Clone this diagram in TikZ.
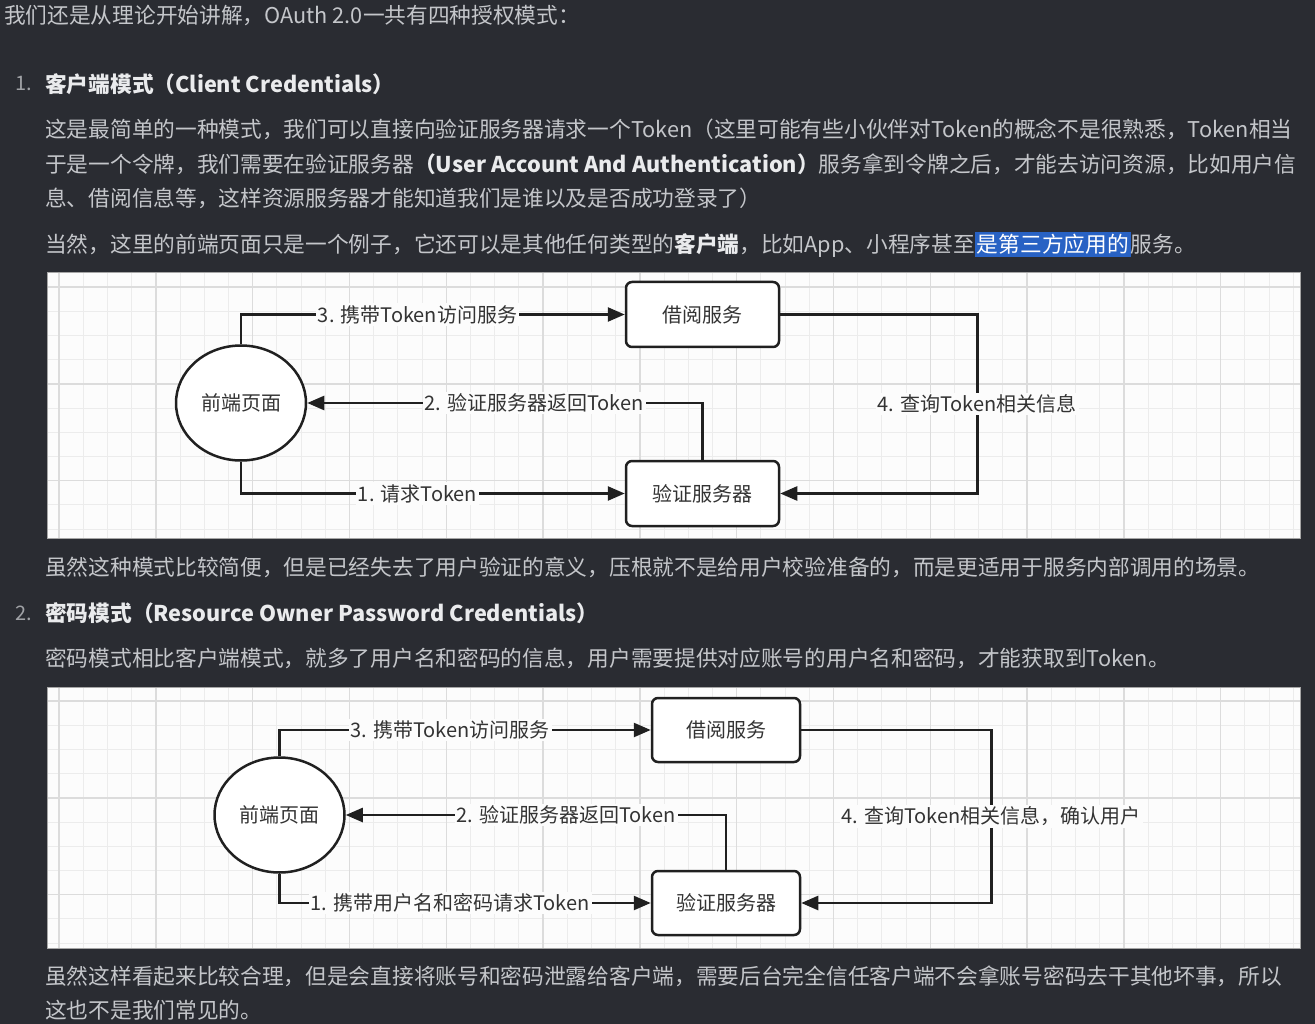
\documentclass[tikz,border=0pt]{standalone}
\usepackage{fontspec}
\usepackage{xcolor}
\setmainfont{Noto Sans CJK SC}
\usetikzlibrary{positioning,shapes.geometric,arrows.meta}
\definecolor{pagebg}{RGB}{42,44,50}
\definecolor{bodytext}{RGB}{196,198,202}
\definecolor{headtext}{RGB}{234,235,237}
\definecolor{numtext}{RGB}{160,162,166}
\definecolor{hlblue}{RGB}{40,98,196}
\definecolor{panelwhite}{RGB}{252,252,252}
\definecolor{gridminor}{RGB}{236,236,236}
\definecolor{gridmajor}{RGB}{220,220,220}
\definecolor{inkline}{RGB}{32,32,32}
\newcommand{\hl}[1]{{\setlength{\fboxsep}{2pt}\colorbox{hlblue}{\color{white}#1}}}

\begin{document}
\begin{tikzpicture}[x=1pt,y=-1pt,
    bodyline/.style={anchor=west, inner sep=0pt, text=bodytext, font=\fontsize{21.7}{26}\selectfont},
    headline/.style={anchor=west, inner sep=0pt, text=headtext, font=\fontsize{21.7}{26}\selectfont\bfseries},
    numline/.style={anchor=west, inner sep=0pt, text=numtext, font=\fontsize{20}{24}\selectfont},
    front/.style={ellipse, draw=inkline, line width=2.5pt, fill=white, minimum width=130pt, minimum height=115pt, text=black!80, font=\fontsize{20}{24}\selectfont},
    box/.style={rectangle, rounded corners=6pt, draw=inkline, line width=2.5pt, fill=white, text=black!80, font=\fontsize{20}{24}\selectfont},
    flow/.style={draw=inkline, line width=2.5pt, -{Triangle[length=17pt,width=14pt]}},
    lbl/.style={fill=panelwhite, inner sep=2pt, text=black!80, font=\fontsize{20}{24}\selectfont}]

    % Page
    \useasboundingbox (0,0) rectangle (1315,1024);
    \fill[pagebg] (0,0) rectangle (1315,1024);

    % Text above first diagram
    \node[bodyline] (intro) at (4,16) {我们还是从理论开始讲解，OAuth 2.0一共有四种授权模式：};
    \node[numline] (num1) at (15,84) {1.};
    \node[headline] (head1) at (45,84) {客户端模式（Client Credentials）};
    \node[bodyline] (p1a) at (45,129) {这是最简单的一种模式，我们可以直接向验证服务器请求一个Token（这里可能有些小伙伴对Token的概念不是很熟悉，Token相当};
    \node[bodyline] (p1b) at (45,164) {于是一个令牌，我们需要在验证服务器{\color{headtext}\bfseries（User Account And Authentication）}服务拿到令牌之后，才能去访问资源，比如用户信};
    \node[bodyline] (p1c) at (45,198) {息、借阅信息等，这样资源服务器才能知道我们是谁以及是否成功登录了）};
    \node[bodyline] (p1d) at (45,245) {当然，这里的前端页面只是一个例子，它还可以是其他任何类型的{\color{headtext}\bfseries 客户端}，比如App、小程序甚至\hl{是第三方应用的}服务。};

    % Grid panels
    \foreach \top/\bot/\first in {273/538/287, 687/948/701} {
        \fill[panelwhite] (47,\top) rectangle (1300,\bot);
        \foreach \n in {0,...,51}
            \draw[gridminor, line width=1pt] ({59+24.2*\n},\top) -- ({59+24.2*\n},\bot);
        \foreach \n in {0,...,10}
            \draw[gridminor, line width=1pt] (47,{\first+24.2*\n}) -- (1300,{\first+24.2*\n});
        \foreach \n in {0,...,12}
            \draw[gridmajor, line width=1.4pt] ({59+96.8*\n},\top) -- ({59+96.8*\n},\bot);
        \foreach \n in {0,...,2}
            \draw[gridmajor, line width=1.4pt] (47,{\first+96.8*\n}) -- (1300,{\first+96.8*\n});
        \draw[gray!70, line width=1pt] (47,\top) rectangle (1300,\bot);
    }

    % Diagram 1: client credentials
    \node[front] (front1) at (241,403) {前端页面};
    \node[box, minimum width=153pt, minimum height=65pt] (lend1) at (702.5,314.5) {借阅服务};
    \node[box, minimum width=153pt, minimum height=65pt] (auth1) at (702.5,493.5) {验证服务器};

    \draw[flow] (front1.north) |- node[lbl, pos=0.73] {3. 携带Token访问服务} (lend1.west);
    \draw[flow] (auth1.north) |- node[lbl, pos=0.713] {2. 验证服务器返回Token} (front1.east);
    \draw[flow] (front1.south) |- node[lbl, pos=0.73] {1. 请求Token} (auth1.west);
    \draw[flow] (lend1.east) -- ++(197,0) |- node[lbl, pos=0.25] {4. 查询Token相关信息} (auth1.east);

    % Text between diagrams
    \node[bodyline] (p1e) at (45,567) {虽然这种模式比较简便，但是已经失去了用户验证的意义，压根就不是给用户校验准备的，而是更适用于服务内部调用的场景。};
    \node[numline] (num2) at (15,613) {2.};
    \node[headline] (head2) at (45,613) {密码模式（Resource Owner Password Credentials）};
    \node[bodyline] (p2a) at (45,658) {密码模式相比客户端模式，就多了用户名和密码的信息，用户需要提供对应账号的用户名和密码，才能获取到Token。};

    % Diagram 2: password
    \node[front] (front2) at (279.5,815) {前端页面};
    \node[box, minimum width=148pt, minimum height=64pt] (lend2) at (726,730) {借阅服务};
    \node[box, minimum width=148pt, minimum height=64pt] (auth2) at (726,903) {验证服务器};

    \draw[flow] (front2.north) |- node[lbl, pos=0.73] {3. 携带Token访问服务} (lend2.west);
    \draw[flow] (auth2.north) |- node[lbl, pos=0.71] {2. 验证服务器返回Token} (front2.east);
    \draw[flow] (front2.south) |- node[lbl, pos=0.73] {1. 携带用户名和密码请求Token} (auth2.west);
    \draw[flow] (lend2.east) -- ++(190,0) |- node[lbl, pos=0.25] {4. 查询Token相关信息，确认用户} (auth2.east);

    % Text below second diagram
    \node[bodyline] (p2b) at (45,976) {虽然这样看起来比较合理，但是会直接将账号和密码泄露给客户端，需要后台完全信任客户端不会拿账号密码去干其他坏事，所以};
    \node[bodyline] (p2c) at (45,1010) {这也不是我们常见的。};
\end{tikzpicture}
\end{document}
